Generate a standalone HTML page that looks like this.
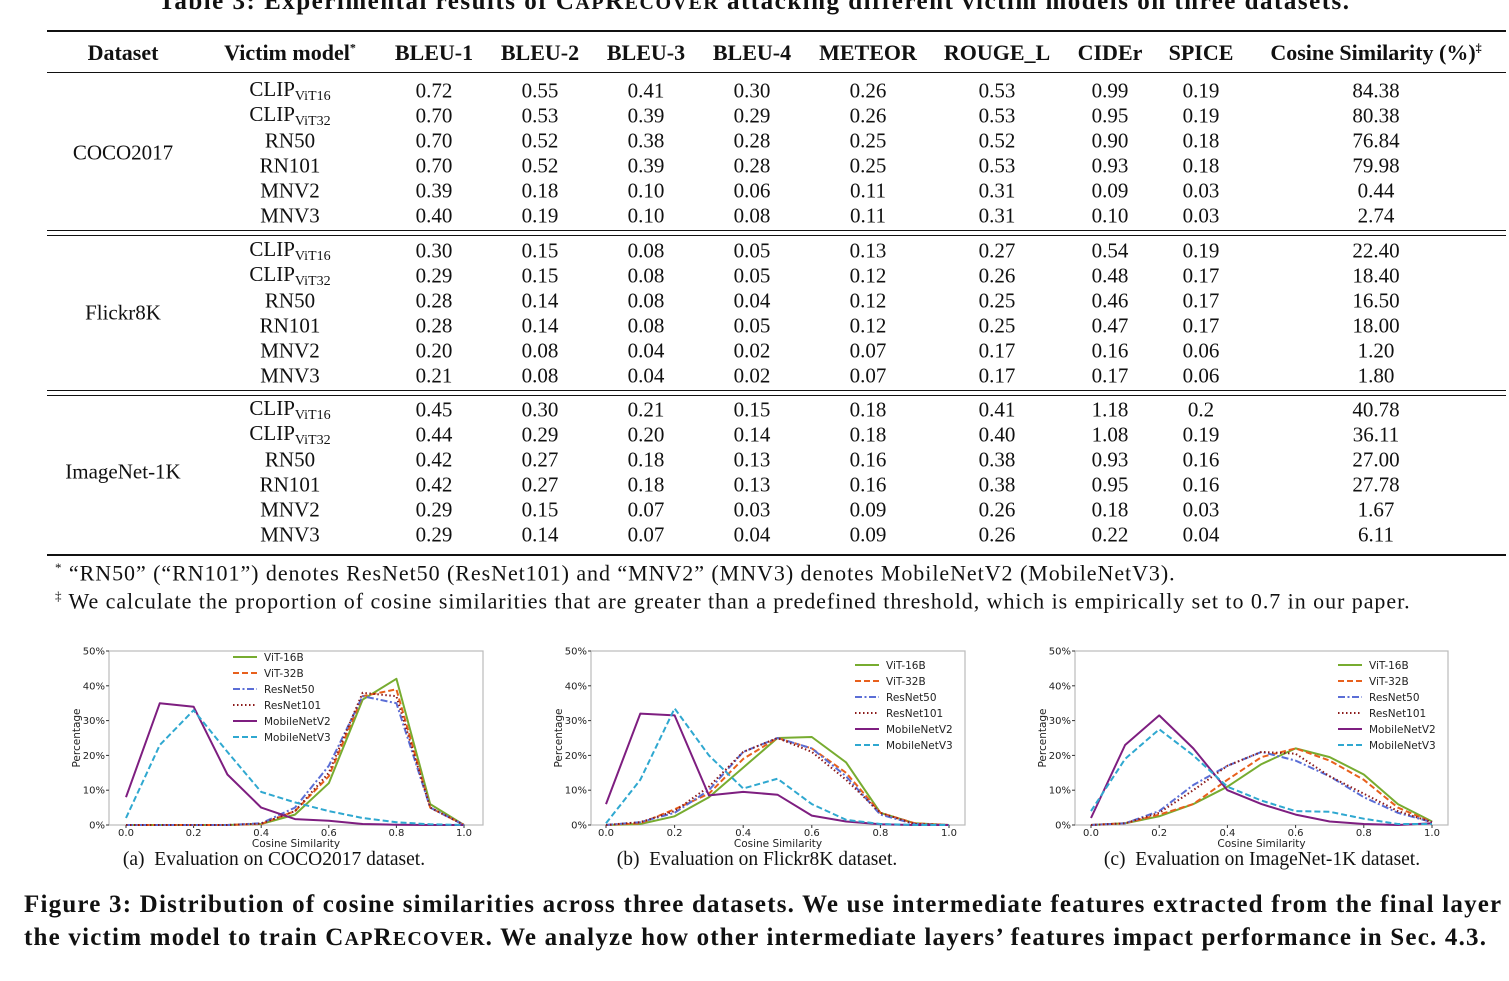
<!DOCTYPE html>
<html><head><meta charset="utf-8">
<style>
body{margin:0;background:#fff;width:1509px;height:981px;overflow:hidden;position:relative;font-family:"Liberation Serif",serif;color:#111}
.a{position:absolute;white-space:nowrap}
.c{transform:translateX(-50%)}
.rule{position:absolute;left:47px;width:1459px;background:#111}
.cell{position:absolute;white-space:nowrap;transform:translate(-50%,-50%);font-size:21px}
sub{font-size:14px;vertical-align:-4px}
</style></head><body>
<div class="a" style="left:0;width:1509px;text-align:center;top:-12px;font-size:25px;letter-spacing:1.5px;font-weight:bold">Table 3: Experimental results of C<span style="font-size:20px">AP</span>R<span style="font-size:20px">ECOVER</span> attacking different victim models on three datasets.</div>
<div class="rule" style="top:30px;height:2px"></div>
<div class="rule" style="top:72px;height:1px"></div>
<div class="rule" style="top:230px;height:1px"></div>
<div class="rule" style="top:235px;height:1px"></div>
<div class="rule" style="top:390px;height:1px"></div>
<div class="rule" style="top:395px;height:1px"></div>
<div class="rule" style="top:554px;height:2px"></div>
<div id="tbl"></div>
<div class="a" style="left:55px;top:560px;font-size:22px;letter-spacing:0.95px"><sup style="font-size:13px">*</sup> “RN50” (“RN101”) denotes ResNet50 (ResNet101) and “MNV2” (MNV3) denotes MobileNetV2 (MobileNetV3).</div>
<div class="a" style="left:55px;top:588px;font-size:22px;letter-spacing:0.95px"><sup style="font-size:13px">‡</sup> We calculate the proportion of cosine similarities that are greater than a predefined threshold, which is empirically set to 0.7 in our paper.</div>
<svg id="charts" width="1509" height="981" style="position:absolute;left:0;top:0" font-family="DejaVu Sans, sans-serif"></svg>
<div class="a c" style="left:274px;top:849px;font-size:19.5px">(a)&nbsp; Evaluation on COCO2017 dataset.</div>
<div class="a c" style="left:757px;top:849px;font-size:19.5px">(b)&nbsp; Evaluation on Flickr8K dataset.</div>
<div class="a c" style="left:1262px;top:849px;font-size:19.5px">(c)&nbsp; Evaluation on ImageNet-1K dataset.</div>
<div class="a" style="left:24px;top:888px;font-size:25px;letter-spacing:1.2px;font-weight:bold;line-height:33px">Figure 3: Distribution of cosine similarities across three datasets. We use intermediate features extracted from the final layer of<br>the victim model to train C<span style="font-size:20px">AP</span>R<span style="font-size:20px">ECOVER</span>. We analyze how other intermediate layers’ features impact performance in Sec. 4.3.</div>
<script>
const colX=[123,290,434,540,646,752,868,997,1110,1201,1376];
const headers=["Dataset","Victim model<sup style='font-size:12px'>*</sup>","BLEU-1","BLEU-2","BLEU-3","BLEU-4","METEOR","ROUGE_L","CIDEr","SPICE","Cosine Similarity (%)<sup style='font-size:12px'>‡</sup>"];
const datasets=["COCO2017","Flickr8K","ImageNet-1K"];
const models=["CLIP<sub>ViT16</sub>","CLIP<sub>ViT32</sub>","RN50","RN101","MNV2","MNV3"];
const rows=[
["0.72","0.55","0.41","0.30","0.26","0.53","0.99","0.19","84.38"],
["0.70","0.53","0.39","0.29","0.26","0.53","0.95","0.19","80.38"],
["0.70","0.52","0.38","0.28","0.25","0.52","0.90","0.18","76.84"],
["0.70","0.52","0.39","0.28","0.25","0.53","0.93","0.18","79.98"],
["0.39","0.18","0.10","0.06","0.11","0.31","0.09","0.03","0.44"],
["0.40","0.19","0.10","0.08","0.11","0.31","0.10","0.03","2.74"],
["0.30","0.15","0.08","0.05","0.13","0.27","0.54","0.19","22.40"],
["0.29","0.15","0.08","0.05","0.12","0.26","0.48","0.17","18.40"],
["0.28","0.14","0.08","0.04","0.12","0.25","0.46","0.17","16.50"],
["0.28","0.14","0.08","0.05","0.12","0.25","0.47","0.17","18.00"],
["0.20","0.08","0.04","0.02","0.07","0.17","0.16","0.06","1.20"],
["0.21","0.08","0.04","0.02","0.07","0.17","0.17","0.06","1.80"],
["0.45","0.30","0.21","0.15","0.18","0.41","1.18","0.2","40.78"],
["0.44","0.29","0.20","0.14","0.18","0.40","1.08","0.19","36.11"],
["0.42","0.27","0.18","0.13","0.16","0.38","0.93","0.16","27.00"],
["0.42","0.27","0.18","0.13","0.16","0.38","0.95","0.16","27.78"],
["0.29","0.15","0.07","0.03","0.09","0.26","0.18","0.03","1.67"],
["0.29","0.14","0.07","0.04","0.09","0.26","0.22","0.04","6.11"]];
const tbl=document.getElementById('tbl');
function cell(x,y,html,name,extra){const d=document.createElement('div');d.className='cell';d.style.left=x+'px';d.style.top=y+'px';if(extra)d.style.cssText+=extra;d.innerHTML=html;


tbl.appendChild(d);}
headers.forEach((h,i)=>cell(colX[i],53,h,'header-cell','font-weight:bold;font-size:22px'));
const blockTop=[91,251,410];
datasets.forEach((ds,b)=>{
 cell(colX[0],blockTop[b]+62,ds,'dataset-label');
 for(let r=0;r<6;r++){const y=blockTop[b]+r*25;const row=rows[b*6+r];
  cell(colX[1],y,models[r],'model-label');
  row.forEach((v,j)=>cell(colX[j+2],y,v,'value-cell'));}
});

// chart data
const xs=[0,0.1,0.2,0.3,0.4,0.5,0.6,0.7,0.8,0.9,1.0];
const seriesNames=["ViT-16B","ViT-32B","ResNet50","ResNet101","MobileNetV2","MobileNetV3"];
const yTicks=[0,10,20,30,40,50];
const xTicks=[0,0.2,0.4,0.6,0.8,1.0];
const cocoVit16=[0,0,0,0,0.3,3,12,36,42,6,0];
const cocoVit32=[0,0,0,0,0.3,4,14,37,39,5,0];
const cocoRn50=[0,0,0,0,0.5,5,17,37,35,5,0];
const cocoRn101=[0,0,0,0,0.4,4,15,38,37,5,0];
const cocoMnv2=[8,35,34,14.5,5,1.7,1.2,0.3,0.1,0,0];
const cocoMnv3=[2,23,33,21,9.5,6.5,4,2,0.8,0.2,0];
const flickrVit16=[0,0.3,2.5,8,16.5,25,25.3,18,3.5,0.5,0];
const flickrVit32=[0,0.5,4.5,9,19,25,22,15,3.5,0.5,0];
const flickrRn50=[0,0.8,3.5,10,21,25,22,14,3,0.3,0];
const flickrRn101=[0,0.8,4,11,21,25,21,13,3.5,0.3,0];
const flickrMnv2=[6,32,31.5,8.5,9.5,8.7,2.7,1,0.2,0,0];
const flickrMnv3=[0.5,13,33.5,20,10.5,13.3,6,1.5,0.3,0,0];
const imnetVit16=[0,0.5,2.5,6,11,17.5,22,19.5,14.5,6,1];
const imnetVit32=[0,0.5,3,6,13,19.5,22,18.5,13,5,0.8];
const imnetRn50=[0,0.5,4,11.5,17,21,18.5,14,8,3.5,0.8];
const imnetRn101=[0,0.5,3.5,10,17,21,20.5,14,9,4,0.8];
const imnetMnv2=[2,23,31.5,22,10,6,3,1,0.3,0,0.5];
const imnetMnv3=[4,19,27.5,20,11,7,4,3.8,1.8,0.3,0.3];

const styles=[{c:'#77ac30',d:''},{c:'#e8601c',d:'6,3'},{c:'#5b6ed6',d:'7,2.5,2,2.5'},{c:'#8b1a1a',d:'1.5,2.5'},{c:'#7e1e80',d:''},{c:'#2fa8d0',d:'6,3'}];
const charts=[
 {name:'coco',box:[109,483],x0:126,x1:464,legX:233,legY:657,series:[cocoVit16,cocoVit32,cocoRn50,cocoRn101,cocoMnv2,cocoMnv3]},
 {name:'flickr',box:[591,965],x0:606,x1:949,legX:855,legY:665,series:[flickrVit16,flickrVit32,flickrRn50,flickrRn101,flickrMnv2,flickrMnv3]},
 {name:'imagenet',box:[1075,1448],x0:1091,x1:1432,legX:1338,legY:665,series:[imnetVit16,imnetVit32,imnetRn50,imnetRn101,imnetMnv2,imnetMnv3]}];
const svg=document.getElementById('charts');const NS='http://www.w3.org/2000/svg';
function mk(tag,attrs,name,parent){const e=document.createElementNS(NS,tag);for(const k in attrs)e.setAttribute(k,attrs[k]);


(parent||svg).appendChild(e);return e;}
const yTop=651,yBot=825;
function Y(v){return yBot-v/50*(yBot-yTop);}
charts.forEach(ch=>{
 const g=mk('g',{},ch.name+'-chart');
 const X=v=>ch.x0+v*(ch.x1-ch.x0);
 mk('rect',{x:ch.box[0],y:yTop,width:ch.box[1]-ch.box[0],height:yBot-yTop,fill:'none',stroke:'#bbb','stroke-width':1.2},'plot-frame',g);
 yTicks.forEach(t=>{mk('line',{x1:ch.box[0]-3,x2:ch.box[0],y1:Y(t),y2:Y(t),stroke:'#333'},'y-tick',g);
  const tx=mk('text',{x:ch.box[0]-4,y:Y(t)+3.5,'font-size':10,'text-anchor':'end',fill:'#222'},'y-tick-label',g);tx.textContent=t+'%';});
 xTicks.forEach(t=>{mk('line',{x1:X(t),x2:X(t),y1:yBot,y2:yBot+3,stroke:'#333'},'x-tick',g);
  const tx=mk('text',{x:X(t),y:yBot+11,'font-size':10,'text-anchor':'middle',fill:'#222'},'x-tick-label',g);tx.textContent=t.toFixed(1);});
 const xl=mk('text',{x:(ch.box[0]+ch.box[1])/2,y:847,'font-size':10.5,'text-anchor':'middle',fill:'#222'},'x-axis-title',g);xl.textContent='Cosine Similarity';
 const yx=ch.box[0]-29;const yl=mk('text',{x:yx,y:(yTop+yBot)/2,'font-size':10.5,'text-anchor':'middle',fill:'#222',transform:`rotate(-90 ${yx} ${(yTop+yBot)/2})`},'y-axis-title',g);yl.textContent='Percentage';
 ch.series.forEach((s,i)=>{const pts=s.map((v,k)=>X(xs[k]).toFixed(1)+','+Y(v).toFixed(1)).join(' ');
  mk('polyline',{points:pts,fill:'none',stroke:styles[i].c,'stroke-width':2,'stroke-dasharray':styles[i].d,'stroke-linejoin':'round'},'series-'+seriesNames[i].toLowerCase(),g);});
 seriesNames.forEach((n,i)=>{const y=ch.legY+i*16;
  mk('line',{x1:ch.legX,x2:ch.legX+24,y1:y,y2:y,stroke:styles[i].c,'stroke-width':2,'stroke-dasharray':styles[i].d},'legend-swatch',g);
  const t=mk('text',{x:ch.legX+31,y:y+4,'font-size':10.5,fill:'#222'},'legend-entry',g);t.textContent=n;});
});
</script>
</body></html>
